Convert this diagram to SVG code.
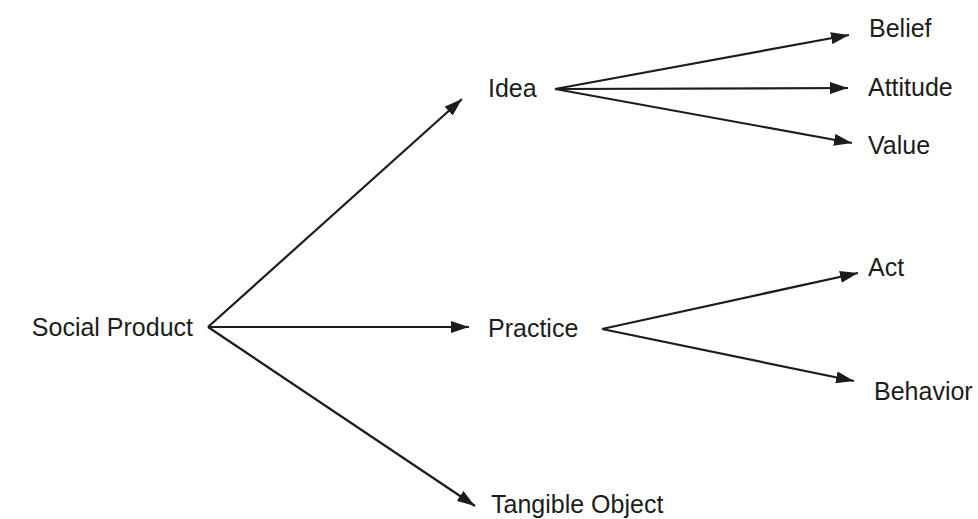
<svg xmlns="http://www.w3.org/2000/svg" width="978" height="519" viewBox="0 0 978 519">
<style>
.t{font-family:"Liberation Sans",Arial,sans-serif;font-size:25px;fill:#1c1c1c}
.c line{stroke:#1c1c1c;stroke-width:2.2;marker-end:url(#ah)}
</style>
<defs>
<marker id="ah" viewBox="0 0 18 12" refX="18" refY="6" markerWidth="18" markerHeight="12" markerUnits="userSpaceOnUse" orient="auto">
<path d="M0,0 L18,6 L0,12 Z" fill="#1c1c1c"/>
</marker>
</defs>
<rect width="978" height="519" fill="#fff"/>
<g class="c" id="connectors">
<line x1="208" y1="327" x2="462" y2="99"/>
<line x1="208" y1="327" x2="469" y2="327"/>
<line x1="208" y1="327" x2="475" y2="506"/>
<line x1="555" y1="89" x2="849" y2="35"/>
<line x1="555" y1="89" x2="848" y2="88"/>
<line x1="555" y1="89" x2="852" y2="143"/>
<line x1="602" y1="329" x2="858" y2="273"/>
<line x1="602" y1="329" x2="854" y2="381"/>
</g>
<g id="social"><text class="t" x="193" y="336" text-anchor="end">Social Product</text></g>
<g id="idea"><text class="t" x="488" y="97">Idea</text></g>
<g id="practice"><text class="t" x="488" y="337">Practice</text></g>
<g id="tangible"><text class="t" x="491" y="513">Tangible Object</text></g>
<g id="belief"><text class="t" x="869" y="37">Belief</text></g>
<g id="attitude"><text class="t" x="868" y="96">Attitude</text></g>
<g id="value"><text class="t" x="868" y="154">Value</text></g>
<g id="act"><text class="t" x="868" y="276">Act</text></g>
<g id="behavior"><text class="t" x="874" y="400">Behavior</text></g>
</svg>
